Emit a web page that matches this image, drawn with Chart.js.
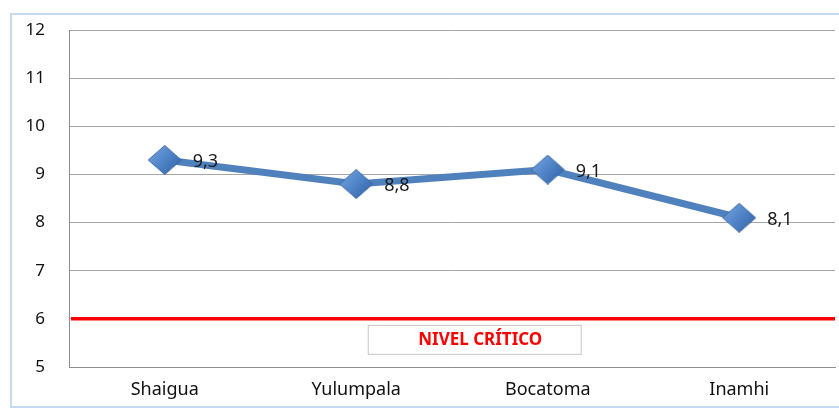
<!DOCTYPE html>
<html>
<head>
<meta charset="utf-8">
<script src="https://cdn.jsdelivr.net/npm/chart.js@4.4.1/dist/chart.umd.min.js"></script>
<style>
  html, body { margin: 0; padding: 0; background: #fff; }
  #wrap { width: 839px; height: 409px; }
</style>
</head>
<body>
<div id="wrap"><canvas id="myLineChart" width="839" height="409"></canvas></div>
<script>
// chart data
const stations = ['Shaigua', 'Yulumpala', 'Bocatoma', 'Inamhi'];
const values = [9.3, 8.8, 9.1, 8.1];
const yTicks = [5, 6, 7, 8, 9, 10, 11, 12];
const criticalLevel = 6;
const criticalLabel = 'NIVEL CRÍTICO';

const FONT = '"Noto Sans", "Open Sans", sans-serif';

// diamond marker with a bit of shading, like the office style
function makeDiamond(w, h) {
  const cv = document.createElement('canvas');
  cv.width = w;
  cv.height = h;
  const c = cv.getContext('2d');
  const g = c.createLinearGradient(0, 0, w, h);
  g.addColorStop(0, '#7ba7e0');
  g.addColorStop(0.5, '#4f84c8');
  g.addColorStop(1, '#2f5f9e');
  c.fillStyle = g;
  c.beginPath();
  c.moveTo(w / 2, 0.5);
  c.lineTo(w - 0.5, h / 2);
  c.lineTo(w / 2, h - 0.5);
  c.lineTo(0.5, h / 2);
  c.closePath();
  c.fill();
  c.strokeStyle = '#3d6ba8';
  c.lineWidth = 1;
  c.stroke();
  return cv;
}
const diamond = makeDiamond(34, 30);

// outer frame like the original office chart
const framePlugin = {
  id: 'frame',
  beforeDraw(chart) {
    const c = chart.ctx;
    c.save();
    c.fillStyle = '#fff';
    c.fillRect(0, 0, chart.width, chart.height);
    c.strokeStyle = '#c6d9f1';
    c.lineWidth = 2;
    c.strokeRect(11, 14, chart.width, chart.height - 16);
    c.restore();
  }
};

// red horizontal line + label box
const criticalPlugin = {
  id: 'critical',
  afterDatasetsDraw(chart) {
    const c = chart.ctx;
    const area = chart.chartArea;
    const y = chart.scales.y.getPixelForValue(criticalLevel);
    c.save();
    c.strokeStyle = '#ff0000';
    c.lineWidth = 3.5;
    c.beginPath();
    c.moveTo(area.left + 2, y);
    c.lineTo(area.right, y);
    c.stroke();

    // label box under the line
    const bx = area.left + (area.right - area.left) * 0.390;
    const bw = 213;
    const by = y + 6;
    const bh = 29;
    c.fillStyle = '#fff';
    c.fillRect(bx, by, bw, bh);
    c.strokeStyle = '#c8c8c8';
    c.lineWidth = 1;
    c.strokeRect(bx + 0.5, by + 0.5, bw, bh);
    c.fillStyle = '#ff0000';
    c.font = 'bold 17px ' + FONT;
    c.textAlign = 'center';
    c.textBaseline = 'middle';
    c.fillText(criticalLabel, bx + bw / 2 + 6, by + bh / 2 + 1);
    c.restore();
  }
};

// value labels to the right of each point
const valueLabels = {
  id: 'valueLabels',
  afterDatasetsDraw(chart) {
    const c = chart.ctx;
    const meta = chart.getDatasetMeta(0);
    c.save();
    c.fillStyle = '#1a1a1a';
    c.font = '18px ' + FONT;
    c.textAlign = 'left';
    c.textBaseline = 'middle';
    meta.data.forEach(function (pt, i) {
      const txt = values[i].toFixed(1).replace('.', ',');
      c.fillText(txt, pt.x + 28, pt.y + 2);
    });
    c.restore();
  }
};

const ctx = document.getElementById('myLineChart').getContext('2d');

const myLineChart = new Chart(ctx, {
  type: 'line',
  data: {
    labels: stations,
    datasets: [{
      label: 'Valor',
      data: values,
      borderColor: '#4f81bd',
      borderWidth: 7,
      pointStyle: diamond,
      pointRadius: 16,
      pointHoverRadius: 16,
      tension: 0,
      fill: false
    }]
  },
  options: {
    responsive: false,
    animation: false,
    layout: { autoPadding: false, padding: { left: 0, top: 30, right: 4, bottom: 0 } },
    plugins: {
      legend: { display: false },
      tooltip: { enabled: false }
    },
    scales: {
      x: {
        offset: true,
        grid: { display: false, drawTicks: false },
        border: { color: '#8c8c8c', width: 1 },
        ticks: {
          padding: 12,
          color: '#111',
          font: { family: FONT, size: 18 }
        },
        afterFit(scale) {
          scale.height = 42;
          scale.paddingLeft = 0;
          scale.paddingRight = 0;
        }
      },
      y: {
        min: 5,
        max: 12,
        afterBuildTicks(scale) {
          scale.ticks = yTicks.map(function (v) { return { value: v }; });
        },
        grid: { color: '#a6a6a6', drawTicks: false, lineWidth: 1 },
        border: { color: '#8c8c8c', width: 1 },
        ticks: {
          padding: 24,
          color: '#111',
          font: { family: FONT, size: 17 }
        },
        afterFit(scale) {
          scale.width = 69;
          scale.paddingTop = 0;
          scale.paddingBottom = 0;
        }
      }
    }
  },
  plugins: [framePlugin, criticalPlugin, valueLabels]
});
</script>
</body>
</html>
